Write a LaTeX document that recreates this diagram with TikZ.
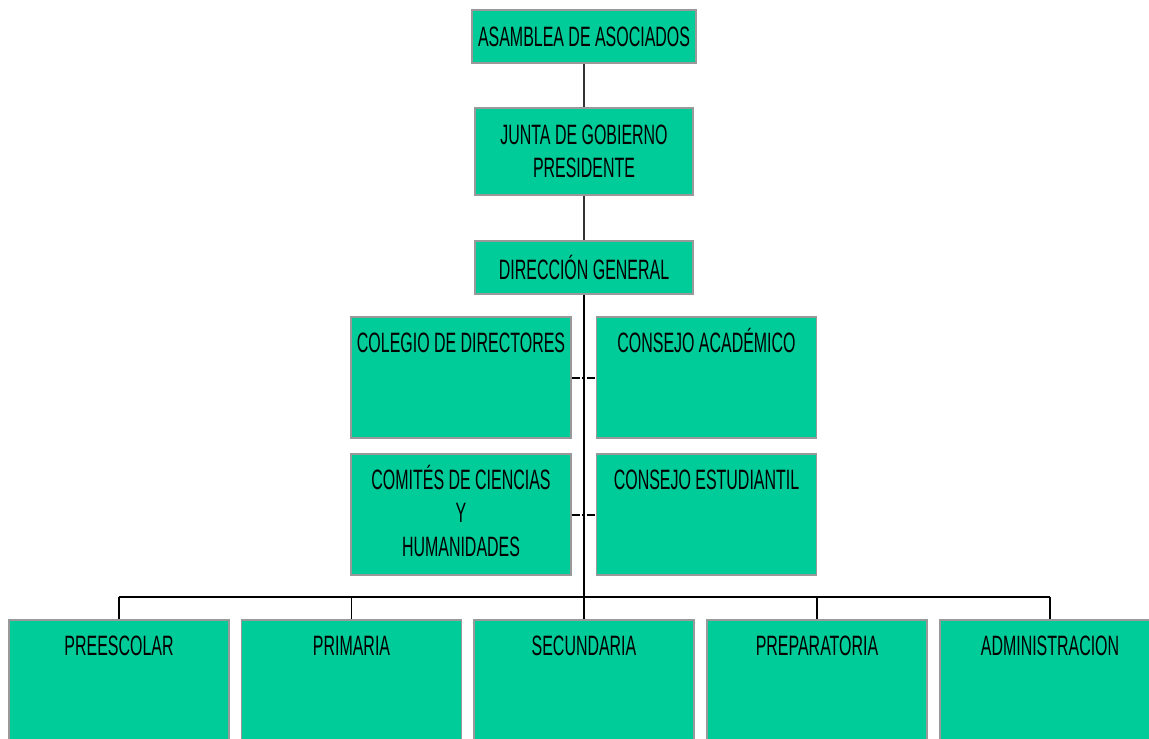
\documentclass[tikz,border=0pt]{standalone}
\usepackage{fontspec}
\setmainfont{Liberation Sans}[FakeStretch=0.57]
\definecolor{boxgreen}{HTML}{00CC99}
\definecolor{boxgray}{HTML}{999999}
\tikzset{
    x=0.5pt, y=-0.5pt, % one unit is one pixel of the chart
    }

\begin{document}
\begin{tikzpicture}[
font=\fontsize{14}{16.75}\selectfont,
box/.style={rectangle, fill=boxgreen, draw=boxgray, line width=0.8pt, inner sep=0pt, align=center},
headbox/.style={box, minimum width=109pt, minimum height=26.5pt},
tallbox/.style={box, minimum width=110pt, minimum height=60.5pt},
bigbox/.style={tallbox,
  label={[anchor=north, inner sep=0pt, text height=10pt, yshift=-8pt]north:#1}},
link/.style={draw=black!80, line width=0.7pt},
sidelink/.style={draw=black, line width=1pt, dash pattern=on 4pt off 1pt on 1.5pt off 1pt},
]
\useasboundingbox (0,0) rectangle (1149,738);

\node[headbox, minimum width=112pt] (asamblea) at (584,36.5) {ASAMBLEA DE ASOCIADOS};
\node[headbox, minimum height=43.5pt] (junta) at (584,151.5) {JUNTA DE GOBIERNO\\PRESIDENTE};
\node[headbox] (direccion) at (584,267.5) {DIRECCIÓN GENERAL};

\node[bigbox={COLEGIO DE DIRECTORES}] (colegio) at (461,377.5) {};
\node[bigbox={CONSEJO ACADÉMICO}] (academico) at (706.5,377.5) {};
\node[tallbox, label={[anchor=north, inner sep=0pt, align=center, yshift=-5.6pt]north:COMITÉS DE CIENCIAS\\Y\\HUMANIDADES}] (comites) at (461,514.5) {};
\node[bigbox={CONSEJO ESTUDIANTIL}] (estudiantil) at (706.5,514.5) {};

\node[bigbox={PREESCOLAR}] (preescolar) at (119,680.5) {};
\node[bigbox={PRIMARIA}] (primaria) at (351.5,680.5) {};
\node[bigbox={SECUNDARIA}] (secundaria) at (584,680.5) {};
\node[bigbox={PREPARATORIA}] (preparatoria) at (817,680.5) {};
\node[bigbox={ADMINISTRACION}] (administracion) at (1050,680.5) {};

\coordinate (bus) at (584,597);

\draw[link] (asamblea) -- (junta);
\draw[link] (junta) -- (direccion);
\draw[link, draw=black] (direccion.south) -- (bus);

\draw[sidelink] (colegio.east) -- (academico.west);
\draw[sidelink] (comites.east) -- (estudiantil.west);

\draw[line width=1pt] (preescolar.north |- bus) -- (administracion.north |- bus);
\foreach \n in {preescolar,primaria,secundaria,preparatoria,administracion}
  \draw[link, draw=black] (\n.north) -- (\n.north |- bus);
\end{tikzpicture}
\end{document}
